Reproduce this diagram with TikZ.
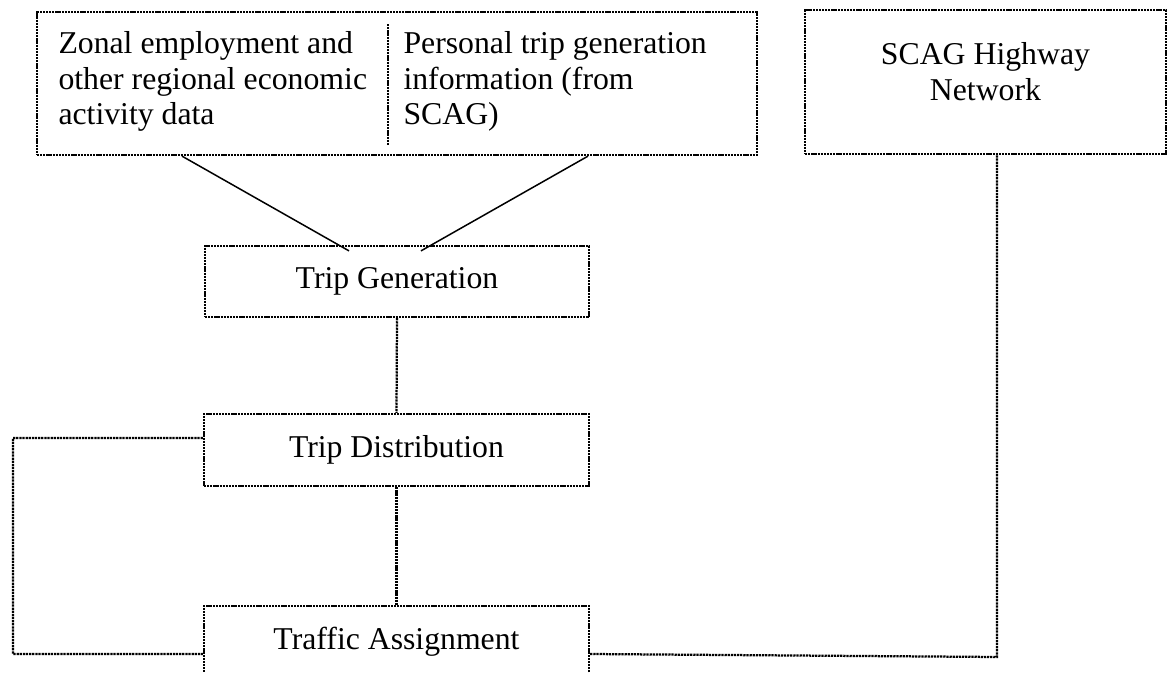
\documentclass[tikz,border=0pt]{standalone}
\usepackage{fontspec}
\setmainfont{Liberation Serif}

\tikzset{
  box/.style={draw, line width=0.9pt, dash pattern=on 0.9pt off 0.35pt, inner sep=0pt, font=\fontsize{12.7pt}{14.2pt}\selectfont},
  link/.style={line width=0.9pt, dash pattern=on 0.9pt off 0.35pt},
  slant/.style={line width=0.6pt},
  words/.style={inner sep=0pt, align=left, font=\fontsize{12.7pt}{14.2pt}\selectfont}
}

\begin{document}
\begin{tikzpicture}[x=0.4pt, y=-0.4pt]
% Set the page size (one unit is one pixel of the original)
\clip (0,0) rectangle (1169,673);

% Draw the input boxes
\node[box, minimum width=288pt, minimum height=57.2pt] (inputs) at (397,83.5) {};
\node[words, anchor=north west] (econ) at (58,31) {Zonal employment and\\other regional economic\\activity data};
\node[words, anchor=north west] (persontrips) at (403,31) {Personal trip generation\\information (from\\SCAG)};
\draw[link] (388,24) -- (388,145);
\node[box, minimum width=144.4pt, minimum height=57.6pt] (hwy) at (985.5,82) {};
\node[words, align=center, anchor=north] (hwytxt) at (985.5,42) {SCAG Highway\\Network};

% Draw the model steps
\node[box, minimum width=153.6pt, minimum height=28.4pt] (gen) at (397,281.5) {Trip Generation};
\node[box, minimum width=154pt, minimum height=28.8pt] (dist) at (396.5,450) {Trip Distribution};
\node[box, minimum width=154pt, minimum height=28.8pt] (assign) at (396.5,642) {Traffic Assignment};

% Connect them
\draw[slant] ([xshift=-86pt]inputs.south) -- ([xshift=-19.2pt, yshift=-2.4pt]gen.north);
\draw[slant] ([xshift=76.4pt]inputs.south) -- ([xshift=9.6pt, yshift=-2.4pt]gen.north);
\draw[link] (gen.south) -- (dist.north);
\draw[link] (dist.south) -- (assign.north);
\coordinate (loopt) at (13,438);
\coordinate (loopb) at (13,654);
\draw[link] ([yshift=4.8pt]dist.west) -- (loopt) -- (loopb) -- ([yshift=-4.8pt]assign.west);
\coordinate (hwycorner) at (997,657);
\draw[link] ([yshift=-4.8pt]assign.east) -- (hwycorner) -- (hwycorner |- hwy.south);
\end{tikzpicture}
\end{document}
